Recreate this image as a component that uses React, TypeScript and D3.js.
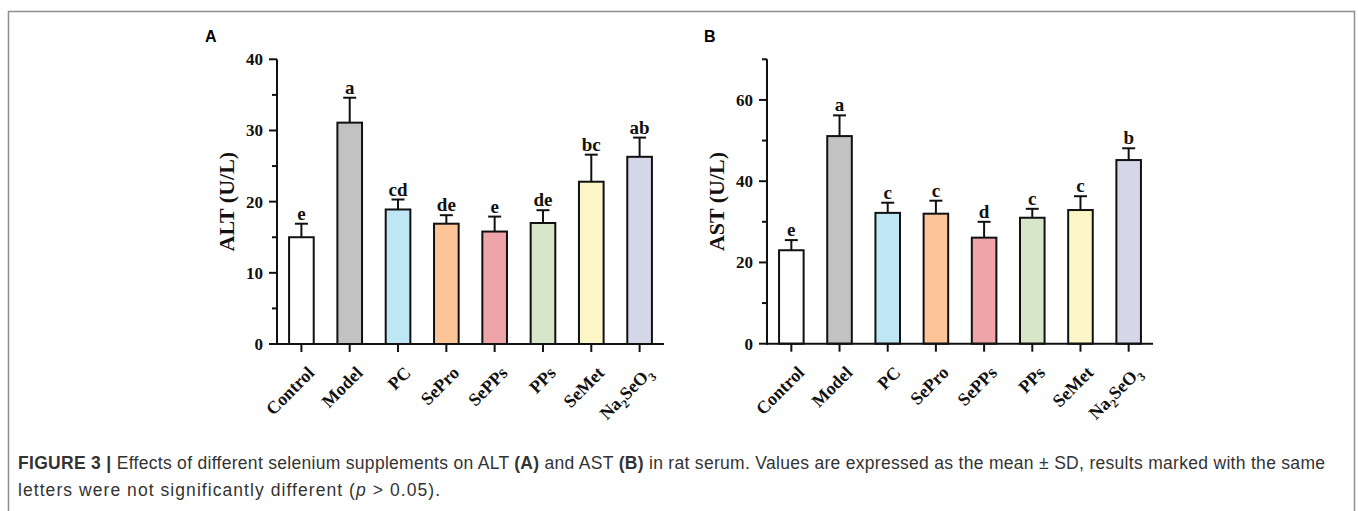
import React from "react";
import * as d3 from "d3";

const categories = ["Control", "Model", "PC", "SePro", "SePPs", "PPs", "SeMet", "Na2SeO3"];
const barColors = ["#ffffff", "#c2c2c2", "#bfe6f4", "#fdc597", "#eea4a9", "#d7e6c8", "#fdf6c6", "#d6d6e9"];

const altMean = [15.0, 31.1, 18.9, 16.9, 15.8, 17.0, 22.8, 26.3];
const altSD = [1.9, 3.5, 1.4, 1.2, 2.1, 1.8, 3.8, 2.7];
const altLetters = ["e", "a", "cd", "de", "e", "de", "bc", "ab"];
const altTicks = [0, 10, 20, 30, 40];
const altMinor = [5, 15, 25, 35];

const astMean = [23.0, 51.1, 32.2, 32.0, 26.1, 31.0, 32.9, 45.2];
const astSD = [2.5, 5.1, 2.5, 3.2, 3.9, 2.2, 3.4, 2.9];
const astLetters = ["e", "a", "c", "c", "d", "c", "c", "b"];
const astTicks = [0, 20, 40, 60];
const astMinor = [10, 30, 50, 70];

const SERIF = "'Liberation Serif', 'DejaVu Serif', serif";
const SANS = "'Liberation Sans', Arial, sans-serif";

type PanelProps = {
  x0: number;
  x1: number;
  y0: number;
  y1: number;
  yMax: number;
  means: number[];
  sds: number[];
  letters: string[];
  ticks: number[];
  minor: number[];
  title: string;
  label: string;
  labelX: number;
};

function CatLabel({ name }: { name: string }) {
  if (name === "Na2SeO3") {
    return (
      <>
        Na
        <tspan dy={5} fontSize={12}>2</tspan>
        <tspan dy={-5}>SeO</tspan>
        <tspan dy={5} fontSize={12}>3</tspan>
      </>
    );
  }
  return <>{name}</>;
}

function Panel(p: PanelProps) {
  const x = d3
    .scaleBand<string>()
    .domain(categories)
    .range([p.x0, p.x1])
    .paddingInner(0.49)
    .paddingOuter(0.25);
  const y = d3.scaleLinear().domain([0, p.yMax]).range([p.y0, p.y1]);
  const bw = x.bandwidth();
  const yTitleCenter = (p.y0 + p.y1) / 2;
  return (
    <g>
      <text x={p.labelX} y={42} fontFamily={SANS} fontWeight="bold" fontSize={16} fill="#000">
        {p.label}
      </text>
      {categories.map((c, i) => {
        const cx = (x(c) as number) + bw / 2;
        const top = y(p.means[i]);
        const errTop = y(p.means[i] + p.sds[i]);
        return (
          <g key={c}>
            <line x1={cx} x2={cx} y1={top} y2={errTop} stroke="#111" strokeWidth={2} />
            <line x1={cx - 6.5} x2={cx + 6.5} y1={errTop} y2={errTop} stroke="#111" strokeWidth={2} />
            <rect
              x={x(c) as number}
              y={top}
              width={bw}
              height={y(0) - top}
              fill={barColors[i]}
              stroke="#111"
              strokeWidth={2}
            />
            <text
              x={cx}
              y={errTop - 4}
              textAnchor="middle"
              fontFamily={SERIF}
              fontWeight="bold"
              fontSize={19}
              fill="#111"
            >
              {p.letters[i]}
            </text>
            <line x1={cx} x2={cx} y1={y(0)} y2={y(0) + 8} stroke="#111" strokeWidth={2} />
            <text
              transform={`translate(${cx + 14},${y(0) + 30}) rotate(-45)`}
              textAnchor="end"
              fontFamily={SERIF}
              fontWeight="bold"
              fontSize={18}
              fill="#111"
            >
              <CatLabel name={c} />
            </text>
          </g>
        );
      })}
      {/* y axis */}
      <line x1={p.x0} x2={p.x0} y1={p.y0 + 1} y2={p.y1} stroke="#111" strokeWidth={2} />
      {p.ticks.map((t) => (
        <g key={"t" + t}>
          <line x1={p.x0 - 8} x2={p.x0} y1={y(t)} y2={y(t)} stroke="#111" strokeWidth={2} />
          <text
            x={p.x0 - 14}
            y={y(t) + 6}
            textAnchor="end"
            fontFamily={SERIF}
            fontWeight="bold"
            fontSize={17}
            fill="#111"
          >
            {t}
          </text>
        </g>
      ))}
      {p.minor.map((t) => (
        <line key={"m" + t} x1={p.x0 - 5} x2={p.x0} y1={y(t)} y2={y(t)} stroke="#111" strokeWidth={2} />
      ))}
      {/* x axis */}
      <line x1={p.x0 - 1} x2={p.x1} y1={p.y0} y2={p.y0} stroke="#111" strokeWidth={2} />
      <text
        transform={`translate(${p.x0 - 43},${yTitleCenter}) rotate(-90)`}
        textAnchor="middle"
        fontFamily={SERIF}
        fontWeight="bold"
        fontSize={22}
        fill="#111"
      >
        {p.title}
      </text>
    </g>
  );
}

export default function App() {
  return (
    <svg
      width={1358}
      height={511}
      style={{ position: "absolute", left: 0, top: 0, display: "block", background: "#fff" }}
    >
      <path d="M8.5,511 V11.5 H1354.5 V511" fill="none" stroke="#8f8f8f" strokeWidth={1.5} />
      <Panel
        x0={277}
        x1={664}
        y0={344}
        y1={59.3}
        yMax={40}
        means={altMean}
        sds={altSD}
        letters={altLetters}
        ticks={altTicks}
        minor={altMinor}
        title="ALT (U/L)"
        label="A"
        labelX={205}
      />
      <Panel
        x0={767}
        x1={1153}
        y0={343.7}
        y1={59.3}
        yMax={70}
        means={astMean}
        sds={astSD}
        letters={astLetters}
        ticks={astTicks}
        minor={astMinor}
        title="AST (U/L)"
        label="B"
        labelX={704}
      />
      <text
        x={18}
        y={469}
        fontFamily={SANS}
        fontSize={17.5}
        fill="#333"
        textLength={1307}
        lengthAdjust="spacing"
      >
        <tspan fontWeight="bold">FIGURE 3 | </tspan>
        Effects of different selenium supplements on ALT <tspan fontWeight="bold">(A)</tspan> and AST{" "}
        <tspan fontWeight="bold">(B)</tspan> in rat serum. Values are expressed as the mean ± SD, results
        marked with the same
      </text>
      <text
        x={18}
        y={496}
        fontFamily={SANS}
        fontSize={17.5}
        fill="#333"
        textLength={422}
        lengthAdjust="spacing"
      >
        letters were not significantly different (<tspan fontStyle="italic">p</tspan> &gt; 0.05).
      </text>
    </svg>
  );
}
